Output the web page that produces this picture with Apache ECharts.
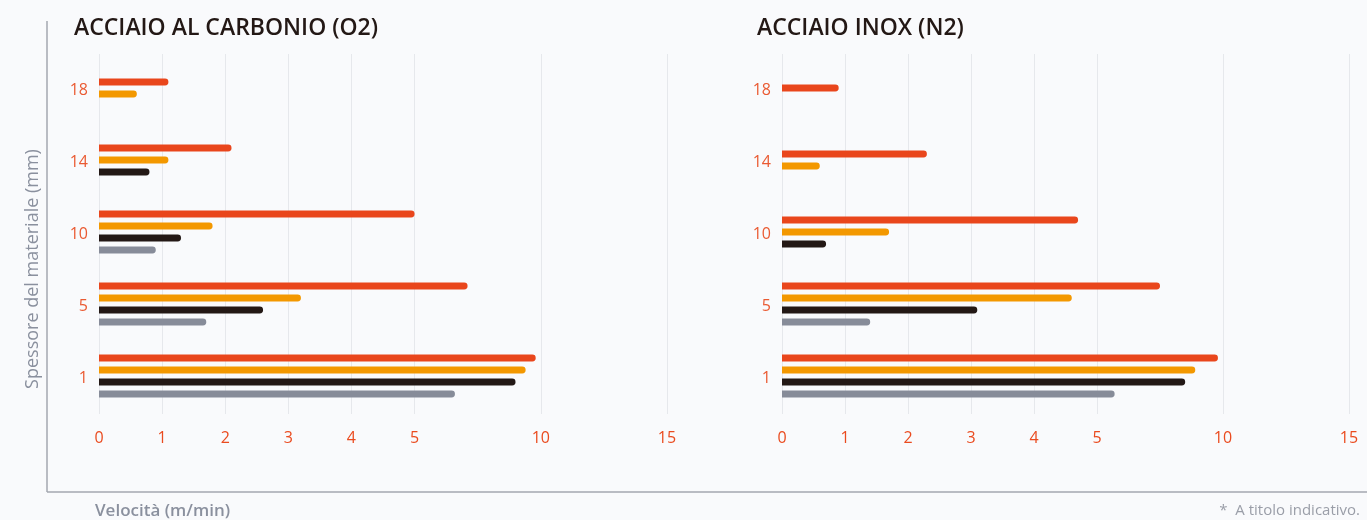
<!DOCTYPE html>
<html>
<head>
<meta charset="utf-8">
<script src="https://cdn.jsdelivr.net/npm/echarts@6/dist/echarts.min.js"></script>
<style>
html,body{margin:0;padding:0;background:#f9fafc;}
#chart{width:1367px;height:520px;}
</style>
</head>
<body>
<div id="chart"></div>
<script>
// spessore (mm), dall'alto verso il basso
var categories = ['18', '14', '10', '5', '1'];
// etichette asse velocita' (m/min)
var speedTicks = [0, 1, 2, 3, 4, 5, 10, 15];

// acciaio al carbonio (O2), velocita' m/min
var carbonRed    = [1.1, 2.1, 5.0, 7.1, 9.8];
var carbonOrange = [0.6, 1.1, 1.8, 3.2, 9.4];
var carbonBlack  = [null, 0.8, 1.3, 2.6, 9.0];
var carbonGray   = [null, null, 0.9, 1.7, 6.6];

// acciaio inox (N2)
var inoxRed    = [0.9, 2.3, 4.7, 7.5, 9.8];
var inoxOrange = [null, 0.6, 1.7, 4.6, 8.9];
var inoxBlack  = [null, null, 0.7, 3.1, 8.5];
var inoxGray   = [null, null, null, 1.4, 5.7];

var colors = ['#e9461c', '#f39800', '#231815', '#878c99'];

// asse spezzato: 0-5 lineare, poi 5-15 compresso
function toAxis(v) {
    return v <= 5 ? v : 5 + (v - 5) / 2.5;
}
function fromAxis(p) {
    return p <= 5 ? p : 5 + (p - 5) * 2.5;
}

function buildSeries(groups, gridIndex) {
    var out = [];
    for (var s = 0; s < groups.length; s++) {
        var data = [];
        for (var i = 0; i < categories.length; i++) {
            if (groups[s][i] == null) continue;
            var count = 0, slot = 0;
            for (var k = 0; k < groups.length; k++) {
                if (groups[k][i] != null) {
                    if (k < s) slot++;
                    count++;
                }
            }
            data.push([toAxis(groups[s][i]), i, slot, count, groups[s][i]]);
        }
        out.push({
            type: 'custom',
            xAxisIndex: gridIndex,
            yAxisIndex: gridIndex,
            encode: {x: 0, y: 1},
            itemStyle: {color: colors[s]},
            renderItem: function (params, api) {
                var cat = api.value(1);
                var start = api.coord([0, cat]);
                var end = api.coord([api.value(0), cat]);
                var band = api.size([0, 1])[1];
                var h = band / 10.5;
                var yc = start[1] + (api.value(2) - (api.value(3) - 1) / 2) * band / 6 - 2;
                return {
                    type: 'rect',
                    shape: {x: start[0], y: yc - h / 2, width: end[0] - start[0], height: h, r: [0, h / 2, h / 2, 0]},
                    style: api.style()
                };
            },
            data: data
        });
    }
    return out;
}

var tickPos = speedTicks.map(toAxis);

function xAxisOpt(gridIndex) {
    return {
        type: 'value',
        gridIndex: gridIndex,
        min: 0,
        max: 9,
        axisLine: {show: false},
        axisTick: {show: false, customValues: tickPos},
        splitLine: {show: true, lineStyle: {color: '#e6e8ec', width: 1}},
        axisLabel: {
            customValues: tickPos,
            color: '#ea4b1f',
            fontSize: 16,
            fontFamily: 'Open Sans',
            margin: 16,
            formatter: function (v) { return String(fromAxis(v)); }
        }
    };
}

function yAxisOpt(gridIndex) {
    return {
        type: 'category',
        gridIndex: gridIndex,
        data: categories,
        inverse: true,
        axisLine: {show: false},
        axisTick: {show: false},
        splitLine: {show: false},
        axisLabel: {color: '#ea5a32', fontSize: 16, fontFamily: 'Open Sans', margin: 11}
    };
}

var titleStyle = {color: '#231815', fontSize: 23, fontWeight: 600, fontFamily: 'Open Sans'};

var chart = echarts.init(document.getElementById('chart'));
var option = {
    backgroundColor: '#f9fafc',
    animation: false,
    title: [
        {text: 'ACCIAIO AL CARBONIO (O2)', left: 69, top: 12, textStyle: titleStyle},
        {text: 'ACCIAIO INOX (N2)', left: 752, top: 12, textStyle: titleStyle}
    ],
    grid: [
        {left: 99, top: 54, width: 568, height: 360},
        {left: 782, top: 54, width: 567, height: 360}
    ],
    xAxis: [xAxisOpt(0), xAxisOpt(1)],
    yAxis: [yAxisOpt(0), yAxisOpt(1)],
    graphic: [
        {type: 'line', shape: {x1: 47, y1: 21, x2: 47, y2: 492}, style: {stroke: '#a3a7b1', lineWidth: 1.5}},
        {type: 'line', shape: {x1: 47, y1: 492, x2: 1367, y2: 492}, style: {stroke: '#a3a7b1', lineWidth: 1.5}},
        {type: 'text', x: 33, y: 269, rotation: Math.PI / 2,
         style: {text: 'Spessore del materiale (mm)', fill: '#8a909e', fontSize: 18, fontFamily: 'Open Sans',
                 align: 'center', verticalAlign: 'middle'}},
        {type: 'text', x: 95, y: 511,
         style: {text: 'Velocità (m/min)', fill: '#8a909e', fontSize: 17, fontWeight: 600, fontFamily: 'Open Sans',
                 align: 'left', verticalAlign: 'middle'}},
        {type: 'text', x: 1360, y: 511,
         style: {text: '*  A titolo indicativo.', fill: '#9a9ea8', fontSize: 15, fontFamily: 'Open Sans',
                 align: 'right', verticalAlign: 'middle'}}
    ],
    series: buildSeries([carbonRed, carbonOrange, carbonBlack, carbonGray], 0)
        .concat(buildSeries([inoxRed, inoxOrange, inoxBlack, inoxGray], 1))
};
chart.setOption(option);
</script>
</body>
</html>
